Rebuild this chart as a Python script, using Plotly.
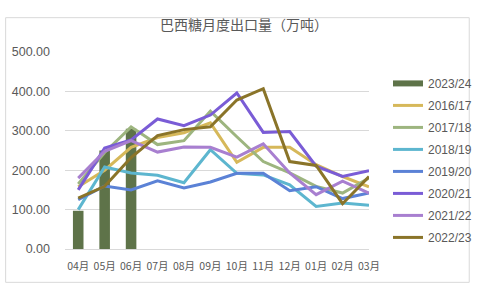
import plotly.graph_objects as go

months = ["04月", "05月", "06月", "07月", "08月", "09月", "10月", "11月", "12月", "01月", "02月", "03月"]

bar_name = "2023/24"
bar_values = [97, 250, 305]

s_2016_17 = [158, 200, 258, 283, 295, 320, 220, 258, 258, 214, 184, 158]
s_2017_18 = [165, 245, 310, 265, 275, 350, 285, 222, 193, 159, 142, 180]
s_2018_19 = [100, 208, 193, 187, 168, 252, 192, 188, 163, 108, 117, 111]
s_2019_20 = [125, 160, 150, 173, 155, 170, 192, 192, 148, 158, 128, 142]
s_2020_21 = [150, 256, 277, 330, 313, 340, 396, 296, 298, 210, 184, 199]
s_2021_22 = [180, 248, 275, 246, 259, 258, 233, 267, 193, 138, 172, 142]
s_2022_23 = [129, 159, 232, 288, 303, 310, 378, 407, 222, 212, 115, 184]

line_names = ["2016/17", "2017/18", "2018/19", "2019/20", "2020/21", "2021/22", "2022/23"]
line_series = [s_2016_17, s_2017_18, s_2018_19, s_2019_20, s_2020_21, s_2021_22, s_2022_23]
line_colors = ["#d6b85a", "#9db57f", "#5db6cf", "#5b82d6", "#7a5cd6", "#a87fd0", "#8a7429"]
bar_color = "#5e7349"

W, H = 489, 285
L, R, T, B = 63, 106, 52, 35

fig = go.Figure()
fig.add_trace(go.Bar(x=months[:len(bar_values)], y=bar_values, name=bar_name,
                     marker=dict(color=bar_color, line=dict(width=0)),
                     showlegend=False))
# legend entry for the bar (wide rectangle)
fig.add_trace(go.Scatter(x=[None], y=[None], mode="lines", name=bar_name,
                         line=dict(color=bar_color, width=6), legendgroup="g0"))
for i, (nm, vals, col) in enumerate(zip(line_names, line_series, line_colors)):
    fig.add_trace(go.Scatter(x=months, y=vals, name=nm, mode="lines",
                             line=dict(color=col, width=3), legendgroup=f"g{i+1}"))

pw = W - L - R
ph = H - T - B
fig.add_shape(type="rect", xref="paper", yref="paper",
              x0=-(L - 0.5) / pw, x1=(W - L - 0.5) / pw,
              y0=-(B - 1.5) / ph, y1=(H - T - 0.5) / ph,
              line=dict(color="#d9d9d9", width=1), layer="below")

fig.update_layout(
    width=W, height=H,
    margin=dict(l=L, r=R, t=T, b=B),
    paper_bgcolor="white", plot_bgcolor="white",
    title=dict(text="巴西糖月度出口量（万吨）", x=244 / W, xanchor="center",
               y=1 - 25 / H, yanchor="middle", yref="container",
               font=dict(family="Noto Sans CJK SC", size=14, color="#595959")),
    bargap=0.6,
    font=dict(family="Liberation Sans, Arial", size=11, color="#595959"),
    showlegend=True,
    legend=dict(x=(403 - L) / pw, xanchor="left", y=1 - (69 - T) / ph, yanchor="top",
                font=dict(family="Liberation Sans, Arial", size=12, color="#595959"),
                tracegroupgap=3, bgcolor="rgba(0,0,0,0)"),
    xaxis=dict(categoryorder="array", categoryarray=months, showgrid=False,
               showline=False, zeroline=False, ticks="", ticklabelstandoff=9,
               tickfont=dict(family="Noto Sans CJK SC", size=10.5, color="#595959")),
    yaxis=dict(range=[0, 500], dtick=100, tickformat=".2f", showgrid=True,
               gridcolor="#d9d9d9", gridwidth=1, zeroline=True, zerolinecolor="#d9d9d9",
               zerolinewidth=1, showline=False, ticks="", ticklabelstandoff=14,
               tickfont=dict(family="Liberation Sans, Arial", size=12.5, color="#595959")),
)

fig.write_html("out.html")
